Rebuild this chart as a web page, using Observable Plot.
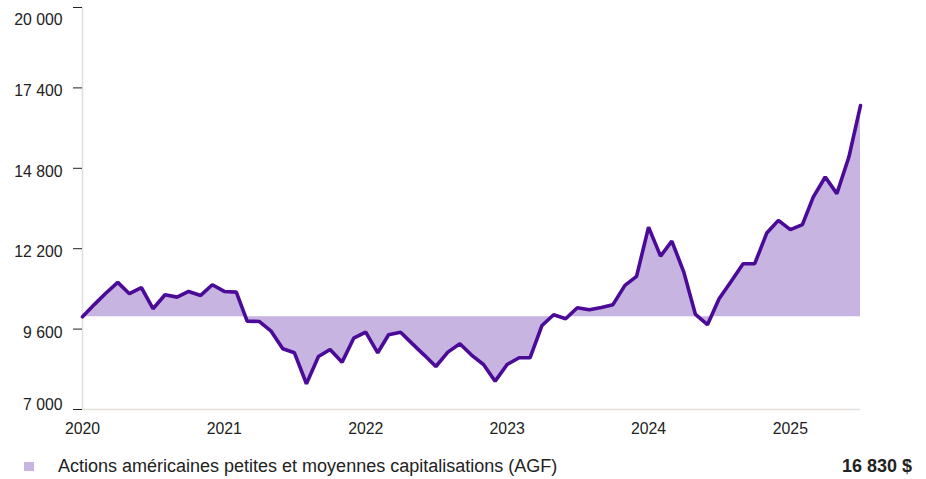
<!DOCTYPE html>
<html>
<head>
<meta charset="utf-8">
<script src="https://cdn.jsdelivr.net/npm/d3@7"></script>
<script src="https://cdn.jsdelivr.net/npm/@observablehq/plot@0.6"></script>
<style>
  body { margin: 0; background: #fff; font-family: "Liberation Sans", Arial, sans-serif; }
  #wrap { position: relative; width: 926px; height: 479px; }
  #legend { position: absolute; left: 0; top: 456px; width: 926px; height: 22px; font-size: 18px; line-height: 21px; color: #222; }
  #legend .sw { position: absolute; left: 24px; top: 5.5px; width: 10px; height: 9px; background: #c8b4e0; }
  #legend .lab { position: absolute; left: 58px; top: 0; }
  #legend .val { position: absolute; right: 14px; top: 0; font-weight: bold; }
</style>
</head>
<body>
<div id="wrap">
  <div id="chart"></div>
  <div id="legend"><span class="sw"></span><span class="lab" id="serLab"></span><span class="val" id="serVal"></span></div>
</div>
<script>
const seriesName = "Actions américaines petites et moyennes capitalisations (AGF)";
const startMonth = "2020-01";
const baseline = 10000;
const values = [
  10000, 10400, 10760, 11110, 10744, 10938, 10259, 10712, 10634, 10818,
  10689, 11035, 10818, 10796, 9857, 9848, 9545, 8964, 8834, 7832,
  8715, 8942, 8531, 9307, 9501, 8834, 9417, 9501, 9130, 8760,
  8391, 8855, 9126, 8760, 8456, 7916, 8456, 8673, 8673, 9718,
  10064, 9935, 10291, 10226, 10300, 10390, 11013, 11304, 12899, 11960,
  12446, 11443, 10074, 9741, 10582, 11142, 11715, 11715, 12705, 13116,
  12815, 12977, 13870, 14517, 13980, 15164, 16830
];
const yTicks = [7000, 9600, 12200, 14800, 17400, 20000];
const xTickYears = [2020, 2021, 2022, 2023, 2024, 2025];
const finalLabel = "16 830 $";

const parse = d3.utcParse("%Y-%m");
const t0 = parse(startMonth);
const data = values.map((v, i) => ({date: d3.utcMonth.offset(t0, i), value: v}));
const fmt = d => d3.format(",")(d).replace(/,/g, " ");
const yMin = yTicks[0], yMax = yTicks[yTicks.length - 1];
const midTicks = yTicks.slice(1, -1);

const lineColor = "#4b0a98";
const fillColor = "#c8b4e0";
const axisGray = "#e3dfda";

const chart = Plot.plot({
  width: 926,
  height: 440,
  marginTop: 7,
  marginBottom: 31,
  marginLeft: 82,
  marginRight: 66,
  style: {fontFamily: "'Liberation Sans', Arial, sans-serif", fontSize: "15.8px", color: "#222", background: "#fff"},
  x: {type: "utc", domain: [data[0].date, data[data.length - 1].date]},
  y: {domain: [yMin, yMax]},
  marks: [
    Plot.areaY(data, {x: "date", y1: baseline, y2: "value", fill: fillColor}),
    Plot.ruleY([yMin], {stroke: axisGray, strokeWidth: 1.5}),
    Plot.ruleX([data[0].date], {stroke: axisGray, strokeWidth: 1.5}),
    Plot.lineY(data, {x: "date", y: "value", stroke: lineColor, strokeWidth: 3.6, strokeLinejoin: "miter"}),
    Plot.axisY({ticks: yTicks, tickFormat: null, text: null, tickSize: 9, stroke: "#222", label: null}),
    Plot.axisY({ticks: midTicks, tickFormat: fmt, tickSize: 0, tickPadding: 20, dy: 3.5, label: null}),
    Plot.axisY({ticks: [yMax], tickFormat: fmt, tickSize: 0, tickPadding: 20, dy: 12.5, label: null}),
    Plot.axisY({ticks: [yMin], tickFormat: fmt, tickSize: 0, tickPadding: 20, dy: -5, label: null}),
    Plot.axisX({ticks: xTickYears.map(y => new Date(Date.UTC(y, 0, 1))), tickFormat: d3.utcFormat("%Y"), tickSize: 0, tickPadding: 13, label: null})
  ]
});
document.getElementById("chart").appendChild(chart);
document.getElementById("serLab").textContent = seriesName;
document.getElementById("serVal").textContent = finalLabel;
</script>
</body>
</html>
